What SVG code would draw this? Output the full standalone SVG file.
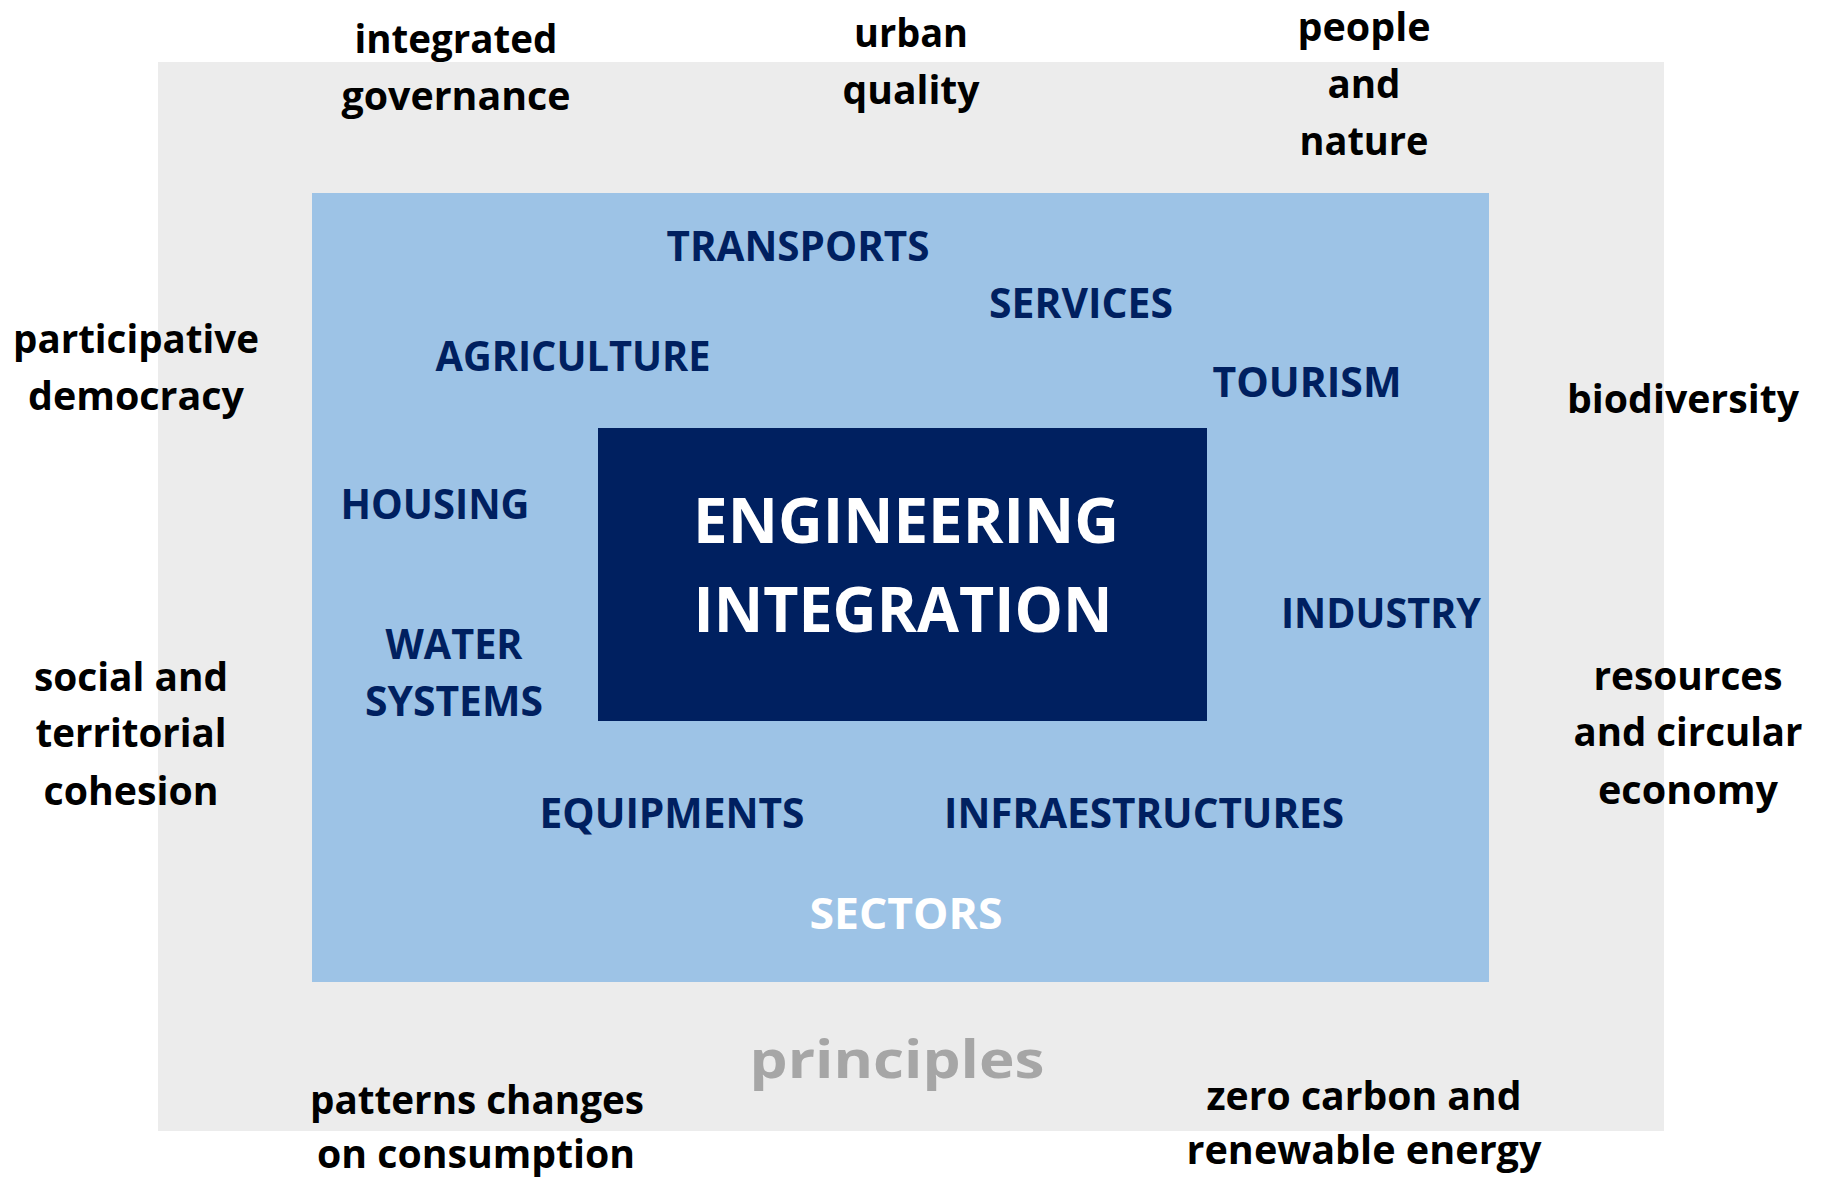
<svg xmlns="http://www.w3.org/2000/svg" width="1823" height="1180" viewBox="0 0 1823 1180">
  <style>
    text { font-family: "Open Sans", "Lato", "Liberation Sans", sans-serif; font-weight: 700; text-anchor: middle; }
    .principle { font-size: 40px; fill: #000000; }
    .sector { font-size: 41px; fill: #002060; }
    .core { font-size: 62px; fill: #FFFFFF; }
    .sectors-title { font-size: 43px; fill: #FFFFFF; }
    .principles-title { font-size: 52px; fill: #A6A6A6; }
  </style>

  <!-- outer frame: principles -->
  <g id="principles-frame">
    <rect x="158" y="62" width="1506" height="1069" fill="#ECECEC"/>
    <text class="principles-title" x="897" y="1078" textLength="295" lengthAdjust="spacingAndGlyphs">principles</text>
  </g>

  <!-- inner frame: sectors -->
  <g id="sectors-frame">
    <rect x="312" y="193" width="1177" height="789" fill="#9DC3E6"/>
    <text class="sectors-title" x="906" y="929" textLength="193" lengthAdjust="spacingAndGlyphs">SECTORS</text>
  </g>

  <!-- core box -->
  <g id="engineering-integration">
    <rect x="598" y="428" width="609" height="293" fill="#002060"/>
    <text class="core" x="906" y="543" textLength="426" lengthAdjust="spacingAndGlyphs">ENGINEERING</text>
    <text class="core" x="903" y="632" textLength="419" lengthAdjust="spacingAndGlyphs">INTEGRATION</text>
  </g>

  <!-- sector labels -->
  <g id="transports"><text class="sector" x="798" y="261" textLength="263" lengthAdjust="spacingAndGlyphs">TRANSPORTS</text></g>
  <g id="services"><text class="sector" x="1081" y="318" textLength="184" lengthAdjust="spacingAndGlyphs">SERVICES</text></g>
  <g id="agriculture"><text class="sector" x="573" y="371" textLength="275" lengthAdjust="spacingAndGlyphs">AGRICULTURE</text></g>
  <g id="tourism"><text class="sector" x="1307" y="397" textLength="189" lengthAdjust="spacingAndGlyphs">TOURISM</text></g>
  <g id="housing"><text class="sector" x="435" y="519" textLength="189" lengthAdjust="spacingAndGlyphs">HOUSING</text></g>
  <g id="water-systems">
    <text class="sector" x="454" y="659" textLength="137" lengthAdjust="spacingAndGlyphs">WATER</text>
    <text class="sector" x="454" y="716" textLength="178" lengthAdjust="spacingAndGlyphs">SYSTEMS</text>
  </g>
  <g id="industry"><text class="sector" x="1381" y="628" textLength="200" lengthAdjust="spacingAndGlyphs">INDUSTRY</text></g>
  <g id="equipments"><text class="sector" x="672" y="828" textLength="265" lengthAdjust="spacingAndGlyphs">EQUIPMENTS</text></g>
  <g id="infraestructures"><text class="sector" x="1144" y="828" textLength="400" lengthAdjust="spacingAndGlyphs">INFRAESTRUCTURES</text></g>

  <!-- principle labels -->
  <g id="integrated-governance">
    <text class="principle" x="456" y="53" textLength="203" lengthAdjust="spacingAndGlyphs">integrated</text>
    <text class="principle" x="456" y="110" textLength="229" lengthAdjust="spacingAndGlyphs">governance</text>
  </g>
  <g id="urban-quality">
    <text class="principle" x="911" y="47" textLength="114" lengthAdjust="spacingAndGlyphs">urban</text>
    <text class="principle" x="911" y="104" textLength="137" lengthAdjust="spacingAndGlyphs">quality</text>
  </g>
  <g id="people-and-nature">
    <text class="principle" x="1364" y="41" textLength="133" lengthAdjust="spacingAndGlyphs">people</text>
    <text class="principle" x="1364" y="98" textLength="73" lengthAdjust="spacingAndGlyphs">and</text>
    <text class="principle" x="1364" y="155" textLength="129" lengthAdjust="spacingAndGlyphs">nature</text>
  </g>
  <g id="participative-democracy">
    <text class="principle" x="136" y="353" textLength="246" lengthAdjust="spacingAndGlyphs">participative</text>
    <text class="principle" x="136" y="410" textLength="216" lengthAdjust="spacingAndGlyphs">democracy</text>
  </g>
  <g id="biodiversity">
    <text class="principle" x="1683" y="413" textLength="232" lengthAdjust="spacingAndGlyphs">biodiversity</text>
  </g>
  <g id="social-territorial-cohesion">
    <text class="principle" x="131" y="691" textLength="194" lengthAdjust="spacingAndGlyphs">social and</text>
    <text class="principle" x="131" y="747" textLength="191" lengthAdjust="spacingAndGlyphs">territorial</text>
    <text class="principle" x="131" y="805" textLength="175" lengthAdjust="spacingAndGlyphs">cohesion</text>
  </g>
  <g id="resources-circular-economy">
    <text class="principle" x="1688" y="690" textLength="189" lengthAdjust="spacingAndGlyphs">resources</text>
    <text class="principle" x="1688" y="746" textLength="229" lengthAdjust="spacingAndGlyphs">and circular</text>
    <text class="principle" x="1688" y="804" textLength="180" lengthAdjust="spacingAndGlyphs">economy</text>
  </g>
  <g id="patterns-consumption">
    <text class="principle" x="477" y="1114" textLength="334" lengthAdjust="spacingAndGlyphs">patterns changes</text>
    <text class="principle" x="476" y="1168" textLength="318" lengthAdjust="spacingAndGlyphs">on consumption</text>
  </g>
  <g id="zero-carbon-energy">
    <text class="principle" x="1364" y="1110" textLength="315" lengthAdjust="spacingAndGlyphs">zero carbon and</text>
    <text class="principle" x="1364" y="1164" textLength="355" lengthAdjust="spacingAndGlyphs">renewable energy</text>
  </g>

  <g id="connectors"/>
</svg>
